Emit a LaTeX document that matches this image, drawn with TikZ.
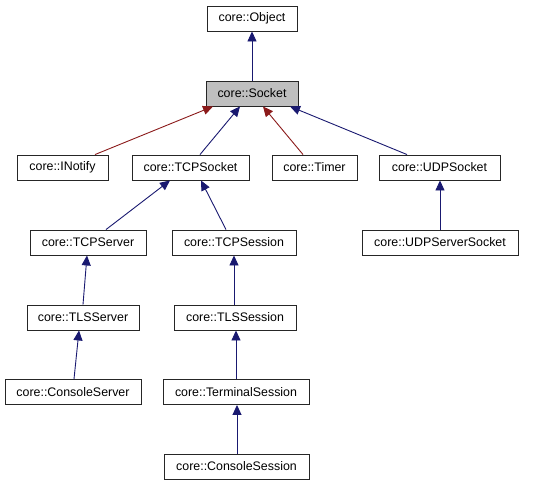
\documentclass[tikz,border=0pt]{standalone}
\usepackage{fontspec}
\setmainfont{Liberation Sans}
\usetikzlibrary{arrows.meta}
\definecolor{edgeblue}{HTML}{191970}
\definecolor{edgered}{HTML}{8B1A1A}
\definecolor{boxgray}{HTML}{BFBFBF}
\begin{document}
\begin{tikzpicture}[x=1pt,y=-1pt,
  cls/.style={draw=black!85, line width=0.9pt, fill=white, minimum height=25pt, inner sep=0pt, font=\fontsize{12.4pt}{14pt}\selectfont},
  pub/.style={draw=edgeblue, line width=0.9pt, -{Triangle[length=10pt,width=9pt]}},
  prot/.style={draw=edgered, line width=0.9pt, -{Triangle[length=10pt,width=9pt]}}]
\useasboundingbox (0,0) rectangle (545,485);
\node[cls, minimum width=90pt] (obj) at (252,18.5) {core::Object};
\node[cls, minimum width=92pt, fill=boxgray] (sock) at (252,93.5) {core::Socket};
\node[cls, minimum width=91pt] (inot) at (62.5,167.5) {core::INotify};
\node[cls, minimum width=117pt] (tcps) at (190.5,167.5) {core::TCPSocket};
\node[cls, minimum width=85pt] (timer) at (314.5,167.5) {core::Timer};
\node[cls, minimum width=121pt] (udps) at (439.5,167.5) {core::UDPSocket};
\node[cls, minimum width=116pt] (tcpsrv) at (88,242.5) {core::TCPServer};
\node[cls, minimum width=124pt] (tcpses) at (234,242.5) {core::TCPSession};
\node[cls, minimum width=156pt] (udpsrv) at (440,242.5) {core::UDPServerSocket};
\node[cls, minimum width=112pt] (tlssrv) at (83,317.5) {core::TLSServer};
\node[cls, minimum width=122pt] (tlsses) at (235,317.5) {core::TLSSession};
\node[cls, minimum width=136pt] (consrv) at (73,392) {core::ConsoleServer};
\node[cls, minimum width=146pt] (term) at (236,392) {core::TerminalSession};
\node[cls, minimum width=145pt] (conses) at (236.5,466.5) {core::ConsoleSession};
\draw[pub] (sock.north) -- (obj.south);
\draw[prot] ([xshift=32.5pt]inot.north) -- ([xshift=-39pt]sock.south);
\draw[pub] ([xshift=9.5pt]tcps.north) -- ([xshift=-12pt]sock.south);
\draw[prot] ([xshift=-11.5pt]timer.north) -- ([xshift=11pt]sock.south);
\draw[pub] ([xshift=-32.5pt]udps.north) -- ([xshift=38pt]sock.south);
\draw[pub] ([xshift=18pt]tcpsrv.north) -- ([xshift=-20.5pt]tcps.south);
\draw[pub] ([xshift=-8pt]tcpses.north) -- ([xshift=10.5pt]tcps.south);
\draw[pub] (udpsrv.north) -- ([xshift=0.5pt]udps.south);
\draw[pub] (tlssrv.north) -- ([xshift=-1pt]tcpsrv.south);
\draw[pub] ([xshift=-1pt]tlsses.north) -- (tcpses.south);
\draw[pub] ([xshift=1pt]consrv.north) -- ([xshift=-4pt]tlssrv.south);
\draw[pub] (term.north) -- ([xshift=1pt]tlsses.south);
\draw[pub] ([xshift=0.5pt]conses.north) -- ([xshift=1pt]term.south);
\end{tikzpicture}
\end{document}
